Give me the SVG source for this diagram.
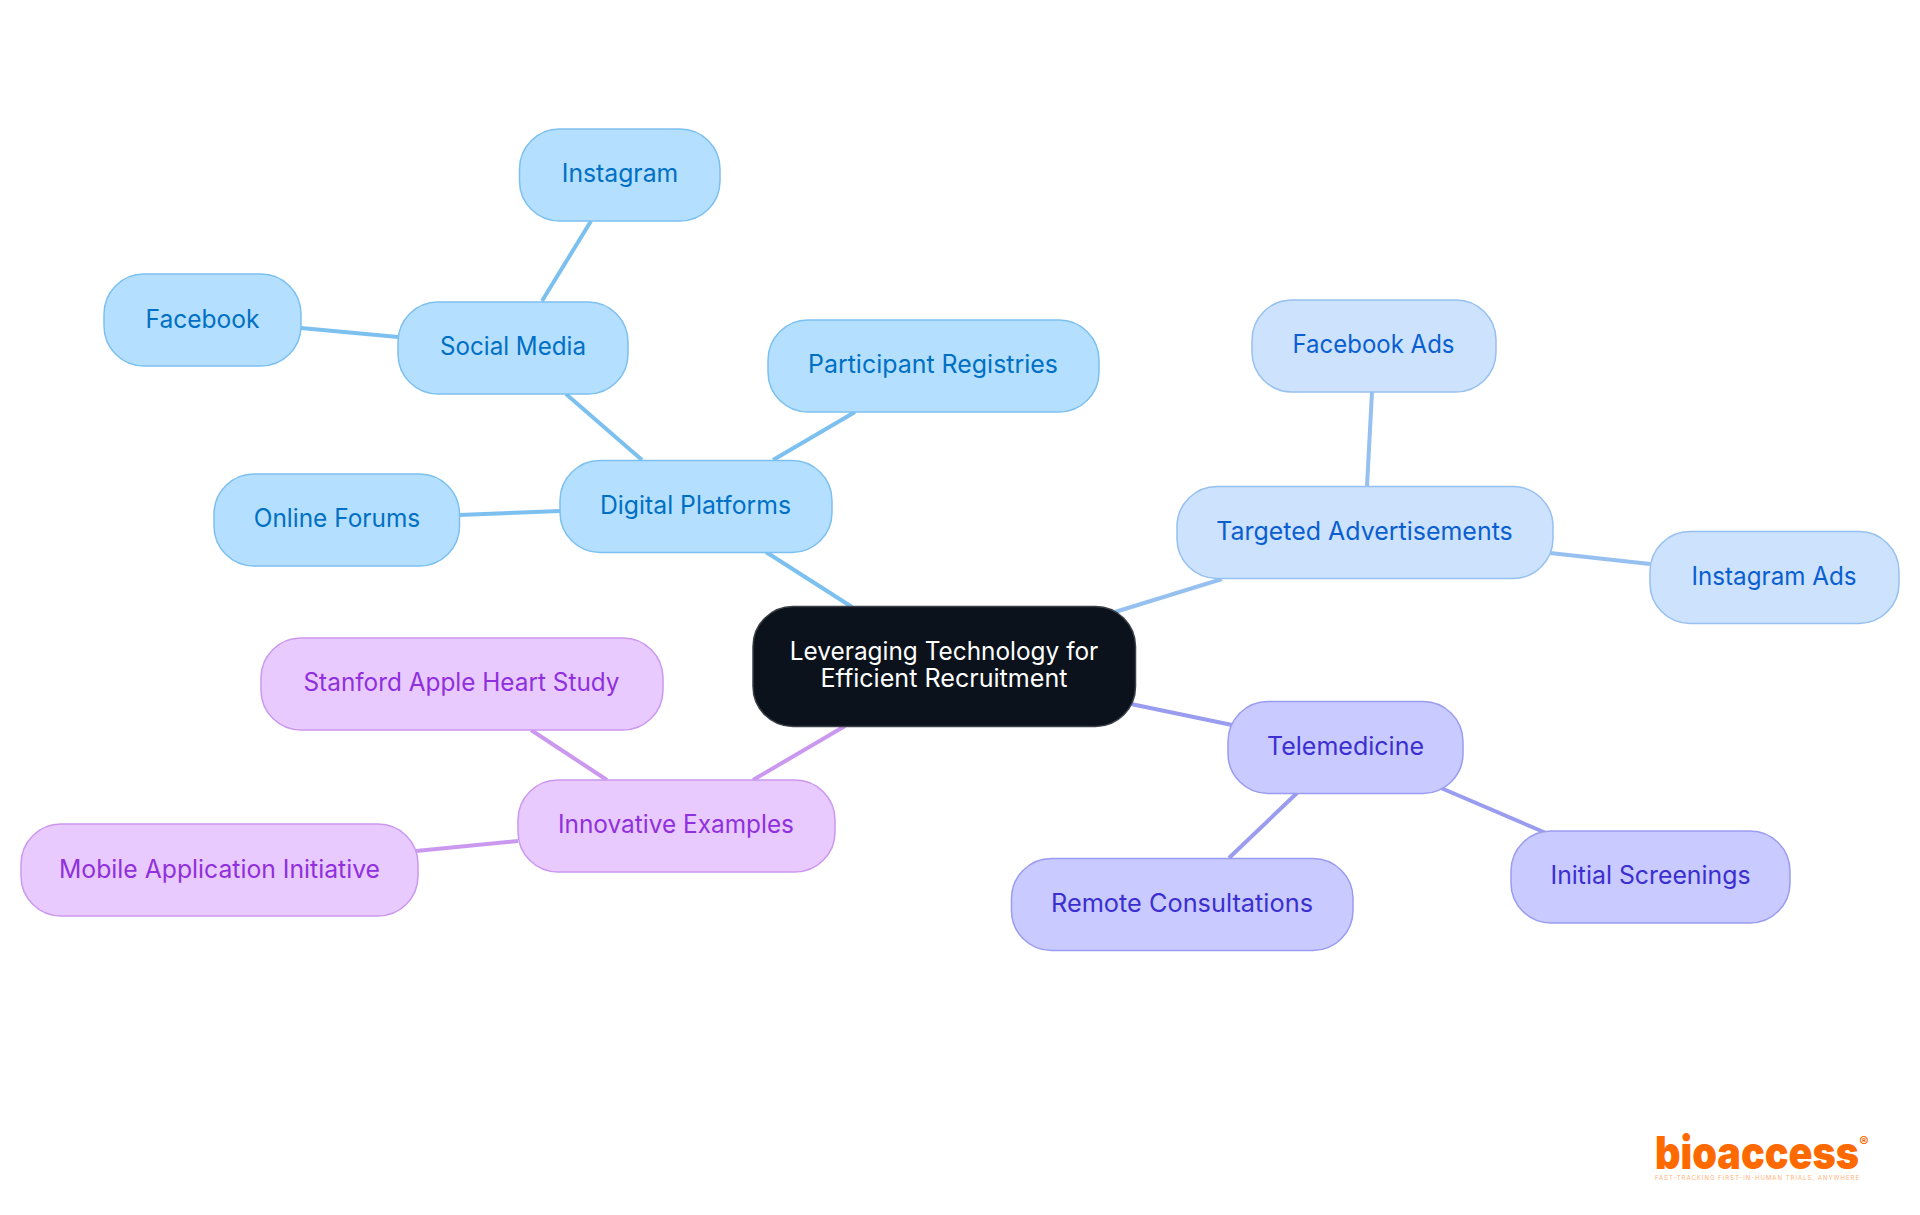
<svg xmlns="http://www.w3.org/2000/svg" width="1920" height="1215" viewBox="0 0 1920 1215">
<style>
text{font-family:"Inter","Noto Sans","Liberation Sans",sans-serif;font-size:25px;text-anchor:middle;dominant-baseline:central}
.n{stroke-width:1.5}
.b rect{fill:#b5dfff;stroke:#7cc0f0}.b text{fill:#0070c4}
.p rect{fill:#cde2fd;stroke:#96c0f0}.p text{fill:#0a5fd0}
.i rect{fill:#c9caff;stroke:#9a9cf0}.i text{fill:#3b2fd0}
.v rect{fill:#e8caff;stroke:#cb98f0}.v text{fill:#9030dc}
#connectors line{stroke-width:4;fill:none}
</style>
<rect width="1920" height="1215" fill="#fff"/>
<g id="connectors">
<line x1="766" y1="552" x2="852" y2="607" stroke="#7cc0f0"/>
<line x1="642" y1="460" x2="566" y2="394" stroke="#7cc0f0"/>
<line x1="773" y1="460" x2="855" y2="412" stroke="#7cc0f0"/>
<line x1="560" y1="511" x2="459" y2="515" stroke="#7cc0f0"/>
<line x1="542" y1="301" x2="591" y2="221" stroke="#7cc0f0"/>
<line x1="398" y1="337" x2="301" y2="328" stroke="#7cc0f0"/>
<line x1="1115" y1="612" x2="1222" y2="579" stroke="#96c0f0"/>
<line x1="1367" y1="486" x2="1372" y2="392" stroke="#96c0f0"/>
<line x1="1550" y1="553" x2="1650" y2="564" stroke="#96c0f0"/>
<line x1="1131" y1="704" x2="1232" y2="725" stroke="#9a9cf0"/>
<line x1="1297" y1="793" x2="1229" y2="858" stroke="#9a9cf0"/>
<line x1="1441" y1="788" x2="1546" y2="833" stroke="#9a9cf0"/>
<line x1="845" y1="726" x2="753" y2="780" stroke="#cb98f0"/>
<line x1="607" y1="780" x2="531" y2="730" stroke="#cb98f0"/>
<line x1="518" y1="841" x2="416" y2="851" stroke="#cb98f0"/>
</g>
<g id="root"><rect x="753" y="606.500" width="382.500" height="120" rx="40" fill="#0b121b" stroke="#3a3f46" stroke-width="1.500"/>
<text x="944" y="651" fill="#fff" textLength="308.500" lengthAdjust="spacingAndGlyphs">Leveraging Technology for</text><text x="944" y="678" fill="#fff" textLength="247" lengthAdjust="spacingAndGlyphs">Efficient Recruitment</text></g>
<g id="digital-platforms" class="b"><rect class="n" x="560" y="460.500" width="272" height="92" rx="40"/><text x="695.500" y="505" textLength="191" lengthAdjust="spacingAndGlyphs">Digital Platforms</text></g>
<g id="social-media" class="b"><rect class="n" x="398" y="302" width="230" height="92" rx="40"/><text x="513" y="346" textLength="146" lengthAdjust="spacingAndGlyphs">Social Media</text></g>
<g id="instagram" class="b"><rect class="n" x="519.500" y="129" width="200.500" height="92" rx="40"/><text x="620" y="173" textLength="116.500" lengthAdjust="spacingAndGlyphs">Instagram</text></g>
<g id="facebook" class="b"><rect class="n" x="104" y="274" width="197" height="92" rx="40"/><text x="202.500" y="319" textLength="114" lengthAdjust="spacingAndGlyphs">Facebook</text></g>
<g id="participant-registries" class="b"><rect class="n" x="768" y="320" width="331" height="92" rx="40"/><text x="933" y="364" textLength="250" lengthAdjust="spacingAndGlyphs">Participant Registries</text></g>
<g id="online-forums" class="b"><rect class="n" x="214" y="474" width="245.500" height="92" rx="40"/><text x="337" y="518" textLength="166.500" lengthAdjust="spacingAndGlyphs">Online Forums</text></g>
<g id="targeted-advertisements" class="p"><rect class="n" x="1177" y="486.500" width="376" height="92" rx="40"/><text x="1364.500" y="531" textLength="296.500" lengthAdjust="spacingAndGlyphs">Targeted Advertisements</text></g>
<g id="facebook-ads" class="p"><rect class="n" x="1252" y="300" width="244" height="92" rx="40"/><text x="1373.500" y="344" textLength="162" lengthAdjust="spacingAndGlyphs">Facebook Ads</text></g>
<g id="instagram-ads" class="p"><rect class="n" x="1650" y="531.500" width="249" height="92" rx="40"/><text x="1774" y="576" textLength="165" lengthAdjust="spacingAndGlyphs">Instagram Ads</text></g>
<g id="telemedicine" class="i"><rect class="n" x="1228" y="701.500" width="235" height="92" rx="40"/><text x="1345.500" y="746" textLength="157" lengthAdjust="spacingAndGlyphs">Telemedicine</text></g>
<g id="initial-screenings" class="i"><rect class="n" x="1511" y="831" width="279" height="92" rx="40"/><text x="1650.500" y="875" textLength="200" lengthAdjust="spacingAndGlyphs">Initial Screenings</text></g>
<g id="remote-consultations" class="i"><rect class="n" x="1011.500" y="858.500" width="341.500" height="92" rx="40"/><text x="1182" y="903" textLength="262" lengthAdjust="spacingAndGlyphs">Remote Consultations</text></g>
<g id="innovative-examples" class="v"><rect class="n" x="518" y="780" width="317" height="92" rx="40"/><text x="676" y="824" textLength="236" lengthAdjust="spacingAndGlyphs">Innovative Examples</text></g>
<g id="stanford-apple-heart-study" class="v"><rect class="n" x="261" y="638" width="402" height="92" rx="40"/><text x="461.500" y="682" textLength="316" lengthAdjust="spacingAndGlyphs">Stanford Apple Heart Study</text></g>
<g id="mobile-application-initiative" class="v"><rect class="n" x="21" y="824" width="397" height="92" rx="40"/><text x="219.500" y="869" textLength="321" lengthAdjust="spacingAndGlyphs">Mobile Application Initiative</text></g>
<g id="logo">
<text x="1757" y="1169" textLength="204" lengthAdjust="spacingAndGlyphs" style="font-size:46px;font-weight:900;dominant-baseline:auto" fill="#ff6a00">bioaccess</text>
<text x="1864" y="1147" style="font-size:14px;font-weight:700;dominant-baseline:auto" fill="#ff6a00">®</text>
<text x="1757" y="1180" textLength="204" lengthAdjust="spacing" style="font-size:6px;dominant-baseline:auto" fill="#ffb27a">FAST-TRACKING FIRST-IN-HUMAN TRIALS, ANYWHERE</text>
</g>
</svg>
